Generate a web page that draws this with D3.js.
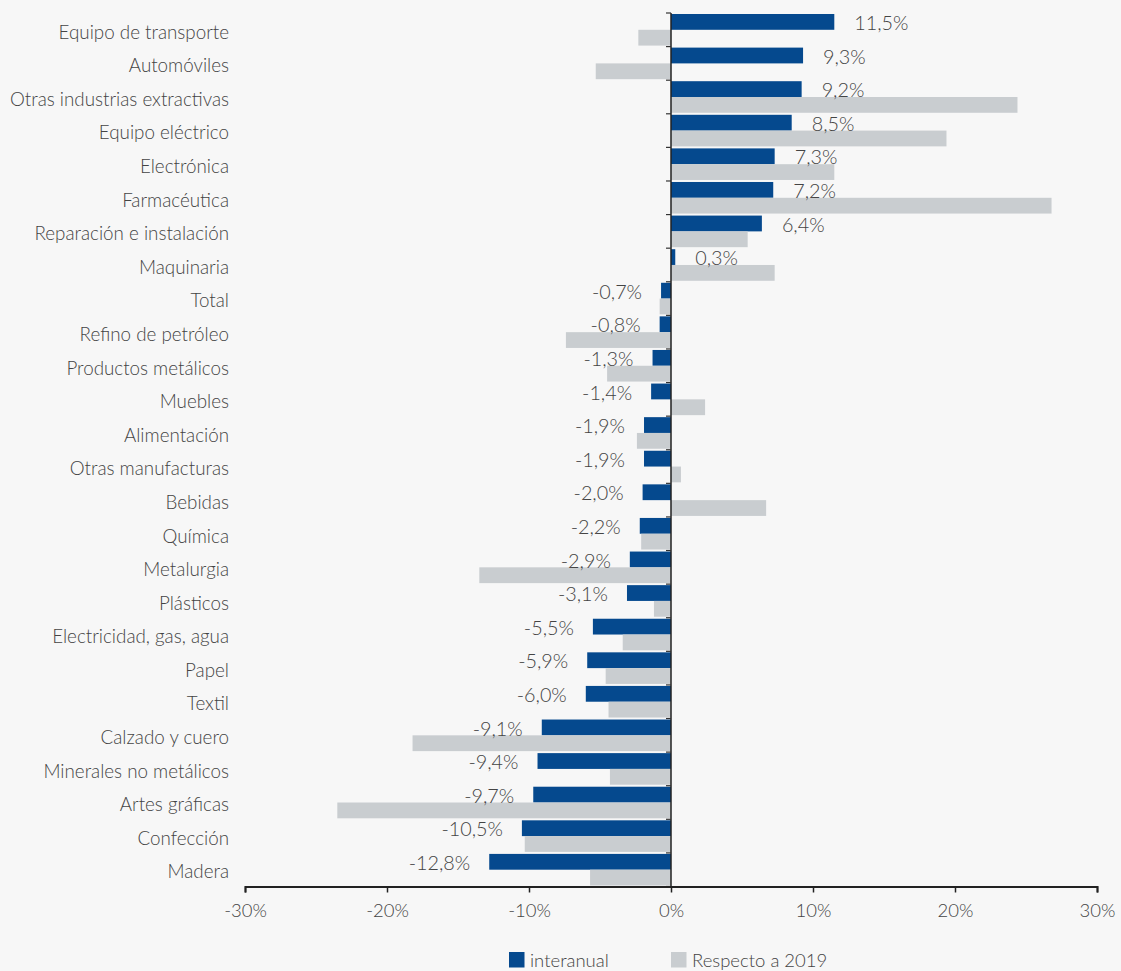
<!DOCTYPE html>
<html>
<head>
<meta charset="utf-8">
<script src="https://cdn.jsdelivr.net/npm/d3@7"></script>
<style>
  html, body { margin: 0; padding: 0; background: #f7f7f7; }
  svg { display: block; font-family: "Lato", "Open Sans", sans-serif; font-weight: 300; }
</style>
</head>
<body>
<svg id="chart" width="1121" height="971"></svg>
<script>
const categories = ["Equipo de transporte","Automóviles","Otras industrias extractivas","Equipo eléctrico","Electrónica","Farmacéutica","Reparación e instalación","Maquinaria","Total","Refino de petróleo","Productos metálicos","Muebles","Alimentación","Otras manufacturas","Bebidas","Química","Metalurgia","Plásticos","Electricidad, gas, agua","Papel","Textil","Calzado y cuero","Minerales no metálicos","Artes gráficas","Confección","Madera"];
const interanual = [11.5,9.3,9.2,8.5,7.3,7.2,6.4,0.3,-0.7,-0.8,-1.3,-1.4,-1.9,-1.9,-2.0,-2.2,-2.9,-3.1,-5.5,-5.9,-6.0,-9.1,-9.4,-9.7,-10.5,-12.8];
const respecto2019 = [-2.3,-5.3,24.4,19.4,11.5,26.8,5.4,7.3,-0.8,-7.4,-4.5,2.4,-2.4,0.7,6.7,-2.1,-13.5,-1.2,-3.4,-4.6,-4.4,-18.2,-4.3,-23.5,-10.3,-5.7];
const xTicks = [-30,-20,-10,0,10,20,30];
const seriesNames = ["interanual","Respecto a 2019"];
const colors = ["#05498e","#c9cdd0"];

const svg = d3.select("#chart");
const x = d3.scaleLinear().domain([-30,30]).range([245,1097]);
const y = d3.scaleBand().domain(categories).range([13,886.5]).paddingInner(0.06).paddingOuter(0.03);
const sub = d3.scaleBand().domain([0,1]).range([0,y.bandwidth()]).padding(0);
const textColor = "#444";

// bars
const rows = svg.append("g").selectAll("g").data(categories).join("g")
  .attr("transform", d => `translate(0,${y(d)})`);
[interanual, respecto2019].forEach((vals, si) => {
  rows.append("rect")
    .attr("x", (d,i) => x(Math.min(0, vals[i])))
    .attr("width", (d,i) => Math.abs(x(vals[i]) - x(0)))
    .attr("y", sub(si))
    .attr("height", sub.bandwidth())
    .attr("fill", colors[si]);
});

// value labels (interanual)
const fmt = v => d3.format(".1f")(v).replace(".", ",").replace("−","-") + "%";
rows.append("text")
  .attr("x", (d,i) => interanual[i] >= 0 ? x(interanual[i]) + 20 : x(interanual[i]) - 19)
  .attr("y", sub(0) + sub.bandwidth()/2 + 1)
  .attr("dy", "0.36em")
  .attr("text-anchor", (d,i) => interanual[i] >= 0 ? "start" : "end")
  .attr("fill", textColor)
  .style("font-size", "19.8px")
  .text((d,i) => fmt(interanual[i]));

// category labels
svg.append("g").selectAll("text").data(categories).join("text")
  .attr("x", 229)
  .attr("y", d => y(d) + y.bandwidth()/2 + 2)
  .attr("dy", "0.36em")
  .attr("text-anchor", "end")
  .attr("fill", textColor)
  .style("font-size", "18.8px")
  .text(d => d);

// zero axis with ticks at band boundaries
const yAxisG = svg.append("g");
yAxisG.append("line").attr("x1", x(0)).attr("x2", x(0)).attr("y1", 13).attr("y2", 886.5)
  .attr("stroke", "#222").attr("stroke-width", 1.5);
const bounds = categories.map(c => y(c) - y.step()*y.paddingInner()/2).concat([886.5]);
yAxisG.selectAll("line.t").data(bounds).join("line").attr("class","t")
  .attr("x1", x(0) - 5).attr("x2", x(0)).attr("y1", d => d).attr("y2", d => d)
  .attr("stroke", "#333").attr("stroke-width", 1.2);

// x axis
const xAxis = d3.axisBottom(x).tickValues(xTicks).tickSize(6).tickFormat(d => d + "%");
const xg = svg.append("g").attr("transform", "translate(0,886.5)").call(xAxis);
xg.select(".domain").attr("stroke", "#222").attr("stroke-width", 2);
xg.selectAll(".tick line").attr("stroke", "#222").attr("stroke-width", 1.5);
xg.selectAll(".tick text").attr("fill", textColor).attr("y", 17)
  .style("font-size", "18.5px").style("font-family", "Lato, 'Open Sans', sans-serif").style("font-weight", 300)
  .text(d => (d < 0 ? "-" + Math.abs(d) : d) + "%");

// legend
const legendPos = [509, 671];
const lg = svg.append("g").selectAll("g").data(seriesNames).join("g")
  .attr("transform", (d,i) => `translate(${legendPos[i]},952)`);
lg.append("rect").attr("width", 15.5).attr("height", 15.5).attr("fill", (d,i) => colors[i]);
lg.append("text").attr("x", 21).attr("y", 14.5).attr("fill", textColor)
  .style("font-size", "18.5px").text(d => d);
</script>
</body>
</html>
